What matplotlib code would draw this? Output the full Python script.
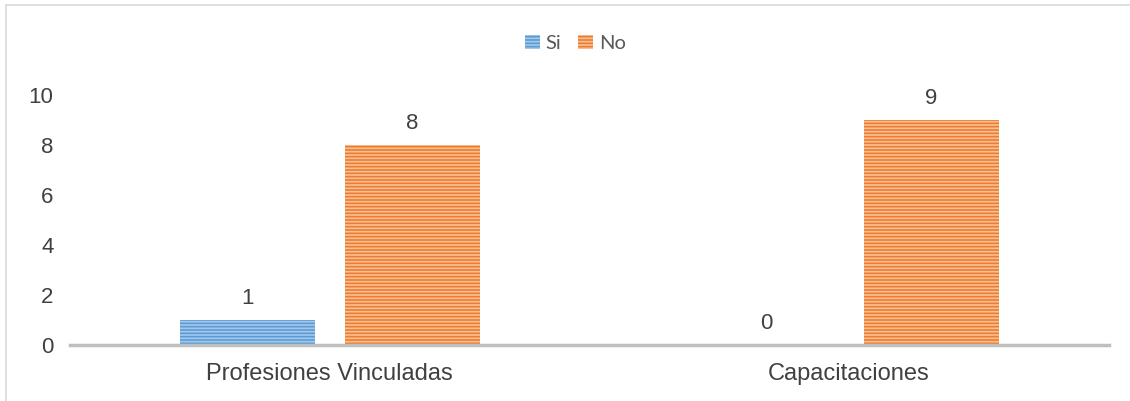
import matplotlib.pyplot as plt
from matplotlib.lines import Line2D
from matplotlib.patches import Patch
import numpy as np

categories = ["Profesiones Vinculadas", "Capacitaciones"]
si_values = [1, 0]
no_values = [8, 9]
series_names = ["Si", "No"]

plt.rcParams["font.family"] = ["Liberation Sans", "DejaVu Sans"]
plt.rcParams["hatch.linewidth"] = 1.2

blue = "#5B9BD5"
orange = "#ED7D31"
blue_light = "#A5C8EA"
orange_light = "#F8BF95"
text_col = "#404040"

fig = plt.figure(figsize=(11.30, 4.01), dpi=100)
ax = fig.add_axes([0.062, 0.1397, 0.919, 0.6235])

x = np.arange(len(categories))
w = 0.26
off = 0.159

bars_si = ax.bar(x - off, si_values, w, color=blue, edgecolor=blue_light,
                 linewidth=0, hatch="-----")
bars_no = ax.bar(x + off, no_values, w, color=orange, edgecolor=orange_light,
                 linewidth=0, hatch="-----")

for bars in (bars_si, bars_no):
    for b in bars:
        h = b.get_height()
        ax.annotate(f"{h:g}", (b.get_x() + b.get_width() / 2, h),
                    xytext=(0, 8), textcoords="offset points",
                    ha="center", va="bottom", fontsize=16, color=text_col)

ax.set_xlim(-0.5, 1.5)
ax.set_ylim(0, 10)
ax.set_yticks([0, 2, 4, 6, 8, 10])
ax.set_xticks(x)
ax.set_xticklabels(categories)
ax.tick_params(axis="both", length=0, labelcolor=text_col)
ax.tick_params(axis="y", pad=12, labelsize=16)
ax.tick_params(axis="x", pad=13, labelsize=17)
for s in ["top", "right", "left"]:
    ax.spines[s].set_visible(False)
ax.spines["bottom"].set_color("#BFBFBF")
ax.spines["bottom"].set_linewidth(2.5)

handles = [Patch(facecolor=blue, edgecolor=blue_light, linewidth=0, hatch="-----"),
           Patch(facecolor=orange, edgecolor=orange_light, linewidth=0, hatch="-----")]
fig.legend(handles, series_names, loc="center", bbox_to_anchor=(0.509, 0.892),
           ncol=2, frameon=False, handlelength=0.75, handleheight=0.75,
           handletextpad=0.3, columnspacing=0.8,
           prop={"family": ["Lato", "DejaVu Sans"], "size": 14.5})
for t in fig.legends[0].get_texts():
    t.set_color("#595959")

# outer frame (left and top only visible)
fig.add_artist(Line2D([0.0055, 0.0055], [0, 0.988], color="#D9D9D9", lw=1.2,
                      transform=fig.transFigure))
fig.add_artist(Line2D([0.0055, 1.0], [0.988, 0.988], color="#D9D9D9", lw=1.2,
                      transform=fig.transFigure))

fig.savefig("out.png", dpi=100)
